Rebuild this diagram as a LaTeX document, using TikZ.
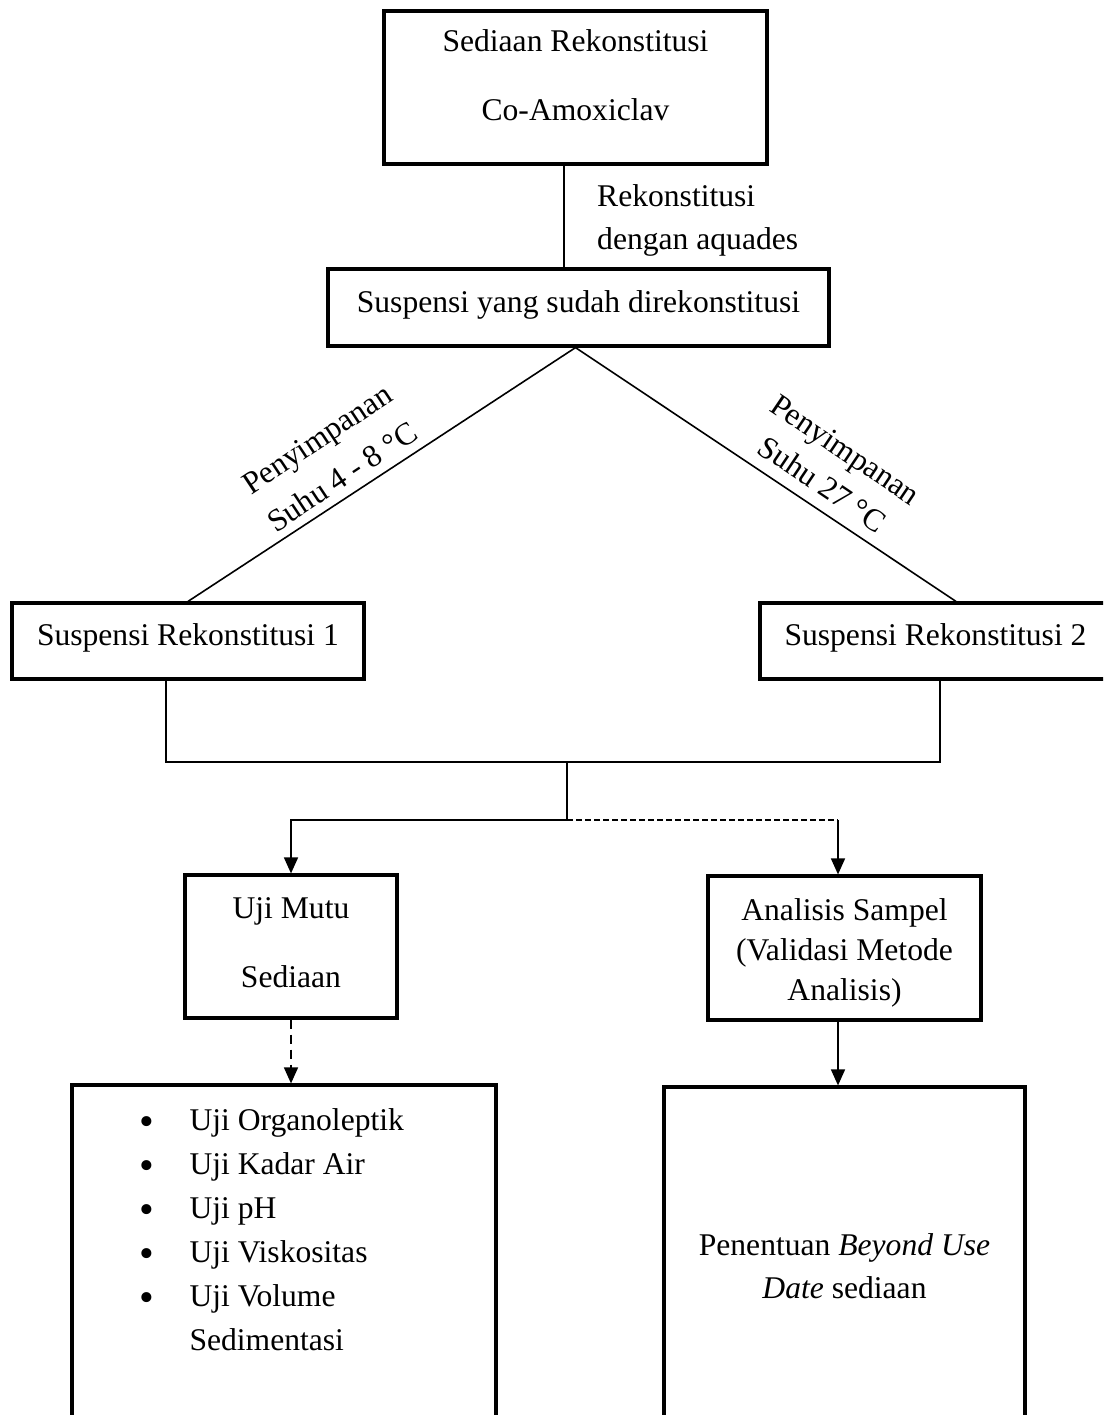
\documentclass[tikz,border=0pt]{standalone}
\usepackage{fontspec}
\setmainfont{Liberation Serif}
\usetikzlibrary{arrows.meta}
\newcommand{\fsA}{\fontsize{31.6pt}{44pt}\selectfont}
\newcommand{\fsB}{\fontsize{31.6pt}{69pt}\selectfont}
\newcommand{\fsC}{\fontsize{31.6pt}{40pt}\selectfont}
\newcommand{\fsD}{\fontsize{31.6pt}{43pt}\selectfont}
\newcommand{\bul}{\makebox[50pt][l]{\raisebox{-5pt}{\fontsize{42pt}{42pt}\selectfont\textbullet}}}
\begin{document}
\begin{tikzpicture}[x=1pt,y=-1pt,
  box/.style={draw, line width=3.2pt, inner sep=0pt, text height=25pt, align=flush center},
  conn/.style={line width=1.6pt},
  arr/.style={conn, -{Triangle[length=16pt,width=14pt]}},
  lbl/.style={font=\fsA, inner sep=0pt, anchor=base}
]
\useasboundingbox (0,0) rectangle (1103,1415);
\fill[white] (0,0) rectangle (1103,1415);
\clip (0,0) rectangle (1103,1415);

% boxes
\node[box, font=\fsB, text width=383pt, minimum height=153pt, text depth=96pt] (top) at (575.5,87.5) {Sediaan Rekonstitusi\\Co-Amoxiclav};
\node[box, font=\fsA, text width=501pt, minimum height=77pt, text depth=16pt] (mid) at (578.5,307.5) {Suspensi yang sudah direkonstitusi};
\node[box, font=\fsA, text width=352pt, minimum height=76pt, text depth=17pt] (s1) at (188,641) {Suspensi Rekonstitusi 1};
\node[box, font=\fsA, text width=351pt, minimum height=76pt, text depth=17pt] (s2) at (935.5,641) {Suspensi Rekonstitusi 2};
\node[box, font=\fsB, text width=212pt, minimum height=143pt, text depth=82pt] (uji) at (291,946.5) {Uji Mutu\\Sediaan};
\node[box, font=\fsC, text width=273pt, minimum height=144pt, text depth=81pt] (ana) at (844.5,948) {Analisis Sampel\\(Validasi Metode\\Analisis)};
\node[box, font=\fsA, text width=289pt, inner xsep=67.5pt, align=flush left, minimum height=360pt, text depth=295pt] (bl) at (284,1265)
  {\bul Uji Organoleptik\\
   \bul Uji Kadar Air\\
   \bul Uji pH\\
   \bul Uji Viskositas\\
   \bul Uji Volume\\
   \hspace*{50pt}Sedimentasi};
\node[box, font=\fsD, text width=361pt, minimum height=358pt, text depth=47pt] (br) at (844.5,1266) {Penentuan \textit{Beyond Use}\\\textit{Date} sediaan};

% top -> mid
\draw[conn] ([xshift=-11.5pt]top.south) -- ([xshift=-14.5pt]mid.north);
\node[font=\fsD, text width=220pt, align=flush left, inner sep=0pt, text height=25pt, anchor=north west] (rek) at (597,181) {Rekonstitusi\\dengan aquades};

% diagonals
\coordinate (apex) at ([xshift=-3pt]mid.south);
\draw[conn] (apex) -- (s1.north);
\draw[conn] (apex) -- ([xshift=20.5pt]s2.north);
\node[lbl, rotate=33.6] (l1a) at (322.8,447.5) {Penyimpanan};
\node[lbl, rotate=33.6] (l1b) at (348.0,485.5) {Suhu 4 - 8 °C};
\node[lbl, rotate=-34] (l2a) at (839.6,458.2) {Penyimpanan};
\node[lbl, rotate=-34] (l2b) at (816.2,493.0) {Suhu 27 °C};

% merge
\coordinate (j1) at (567,762);
\coordinate (j2) at (567,820);
\coordinate (j3) at (838,820);
\draw[conn] ([xshift=-22pt]s1.south) |- (j1) -| ([xshift=4.5pt]s2.south);
\draw[conn] (j1) -- (j2);
\draw[arr] (j2) -| (uji.north);
\draw[conn, dash pattern=on 6pt off 3pt] (j2) -- (j3);
\draw[arr] (j3) -- ([xshift=-6.5pt]ana.north);

% to bottom boxes
\draw[arr, dash pattern=on 9pt off 6pt] (uji.south) -- (uji.south |- bl.north);
\draw[arr] ([xshift=-6.5pt]ana.south) -- ([xshift=-6.5pt]ana.south |- br.north);
\end{tikzpicture}
\end{document}
